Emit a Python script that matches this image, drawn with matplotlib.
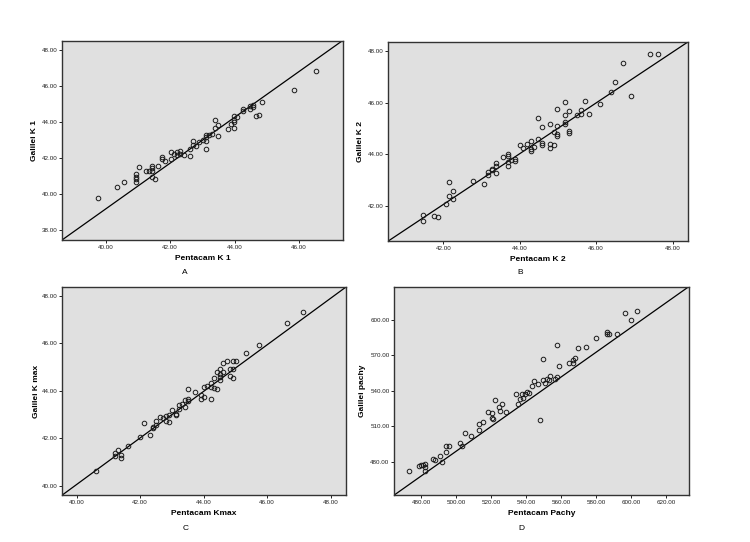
import matplotlib
matplotlib.use("Agg")
import matplotlib.pyplot as plt
from matplotlib.ticker import FormatStrFormatter

plt.rcParams['font.family'] = ['Liberation Sans', 'DejaVu Sans']

# panel A: K 1
a_pent = [39.77, 40.35, 40.56, 40.94, 40.94, 40.94, 40.94, 41.04, 41.24, 41.34, 41.44, 41.44, 41.44, 41.44,
          41.53, 41.63, 41.74, 41.74, 41.83, 42.03, 42.03, 42.12, 42.22, 42.22, 42.32, 42.32, 42.42, 42.62,
          42.62, 42.71, 42.71, 42.80, 42.91, 43.01, 43.11, 43.11, 43.11, 43.11, 43.20, 43.30, 43.39, 43.39,
          43.50, 43.50, 43.79, 43.89, 43.98, 43.98, 43.98, 43.98, 44.09, 44.26, 44.26, 44.47, 44.47, 44.57,
          44.57, 44.66, 44.76, 44.86, 45.84, 46.52]
a_gal = [39.78, 40.42, 40.67, 41.14, 40.94, 40.83, 40.70, 41.52, 41.31, 41.31, 41.57, 41.46, 41.31, 40.94,
         40.85, 41.59, 42.09, 41.98, 41.85, 42.35, 41.98, 42.24, 42.35, 42.18, 42.42, 42.24, 42.20, 42.13,
         42.53, 42.96, 42.72, 42.65, 42.92, 43.02, 43.31, 43.18, 42.96, 42.52, 43.26, 43.35, 44.11, 43.68,
         43.83, 43.24, 43.64, 43.92, 44.35, 44.13, 44.03, 43.68, 44.31, 44.72, 44.63, 44.89, 44.74, 44.96,
         44.83, 44.33, 44.37, 45.13, 45.79, 46.83]

# panel B: K 2
b_pent = [41.46, 41.46, 41.76, 41.87, 42.07, 42.16, 42.16, 42.26, 42.26, 42.77, 43.07, 43.17, 43.17, 43.27,
          43.27, 43.38, 43.38, 43.38, 43.57, 43.68, 43.68, 43.68, 43.68, 43.78, 43.88, 43.88, 44.00, 44.08,
          44.18, 44.29, 44.29, 44.29, 44.38, 44.49, 44.49, 44.58, 44.58, 44.58, 44.79, 44.79, 44.79, 44.89,
          44.89, 44.98, 44.98, 44.98, 44.98, 45.19, 45.19, 45.19, 45.19, 45.30, 45.29, 45.29, 45.49, 45.60,
          45.61, 45.70, 45.81, 46.10, 46.40, 46.50, 46.70, 46.91, 47.41, 47.61]
b_gal = [41.64, 41.41, 41.61, 41.56, 42.08, 42.94, 42.39, 42.59, 42.27, 42.97, 42.86, 43.33, 43.20, 43.44,
         43.39, 43.65, 43.54, 43.27, 43.89, 44.01, 43.95, 43.70, 43.55, 43.79, 43.83, 43.74, 44.36, 44.23,
         44.39, 44.52, 44.20, 44.13, 44.27, 45.42, 44.59, 45.05, 44.45, 44.37, 45.19, 44.41, 44.26, 44.86,
         44.35, 45.77, 45.11, 44.78, 44.70, 46.01, 45.52, 45.24, 45.19, 45.69, 44.89, 44.83, 45.52, 45.57,
         45.72, 46.06, 45.55, 45.96, 46.43, 46.79, 47.54, 46.26, 47.90, 47.88]

# panel C: K max
c_pent = [40.61, 41.21, 41.21, 41.31, 41.40, 41.40, 41.61, 42.00, 42.11, 42.31, 42.41, 42.41, 42.51, 42.51,
          42.61, 42.71, 42.81, 42.81, 42.91, 42.91, 43.12, 43.12, 43.01, 43.21, 43.21, 43.32, 43.41, 43.41,
          43.52, 43.52, 43.52, 43.72, 43.92, 43.92, 44.02, 44.02, 44.11, 44.22, 44.22, 44.22, 44.31, 44.31,
          44.42, 44.42, 44.51, 44.51, 44.51, 44.51, 44.62, 44.62, 44.72, 44.82, 44.82, 44.92, 44.92, 44.92,
          45.02, 45.32, 45.73, 46.62, 47.14]
c_gal = [40.61, 41.39, 41.27, 41.52, 41.28, 41.16, 41.66, 42.07, 42.66, 42.13, 42.43, 42.48, 42.73, 42.57,
         42.89, 42.87, 42.95, 42.74, 43.00, 42.70, 43.03, 42.97, 43.21, 43.25, 43.42, 43.44, 43.33, 43.62,
         44.08, 43.66, 43.57, 43.94, 43.83, 43.67, 43.73, 44.15, 44.21, 44.35, 44.18, 43.67, 44.56, 44.13,
         44.80, 44.07, 44.91, 44.71, 44.60, 44.45, 44.81, 45.19, 45.25, 44.94, 44.62, 45.25, 44.94, 44.53,
         45.25, 45.60, 45.95, 46.85, 47.34]

# panel D: pachymetry
d_pent = [472.96, 478.9, 480.0, 481.0, 482.1, 482.1, 482.1, 486.9, 488.0, 491.0, 492.2, 494.3, 494.3, 496.2,
          502.3, 503.3, 505.3, 508.4, 513.4, 513.4, 515.5, 518.5, 520.4, 520.4, 521.4, 522.5, 524.5, 525.4,
          526.5, 528.5, 534.5, 535.7, 536.6, 537.8, 538.5, 539.7, 540.6, 541.8, 543.7, 544.8, 546.8, 547.9,
          549.8, 549.8, 550.9, 551.9, 553.0, 553.8, 556.8, 558.0, 558.0, 558.9, 564.8, 567.0, 567.0, 568.1,
          570.0, 574.2, 580.3, 586.2, 586.2, 587.4, 592.3, 596.5, 600.3, 603.4]
d_gal = [472.4, 476.6, 477.5, 477.7, 478.6, 476.0, 472.6, 482.3, 481.4, 485.3, 480.3, 493.3, 488.2, 493.3,
         496.1, 493.3, 504.3, 502.3, 512.4, 507.3, 514.1, 522.3, 521.4, 517.4, 516.3, 532.1, 526.2, 523.4,
         529.3, 522.3, 537.2, 529.0, 533.2, 537.2, 534.1, 537.5, 539.2, 538.1, 544.2, 548.2, 546.2, 515.2,
         567.0, 549.0, 547.0, 550.1, 549.0, 552.9, 549.9, 579.1, 552.1, 561.1, 563.4, 566.2, 563.4, 568.1,
         576.1, 577.2, 585.0, 589.9, 588.4, 588.4, 588.4, 605.9, 600.0, 607.9]

x_labels = ['Pentacam K 1', 'Pentacam K 2', 'Pentacam Kmax', 'Pentacam Pachy']
y_labels = ['Galilei K 1', 'Galilei K 2', 'Galilei K max', 'Galilei pachy']
letters = ['A', 'B', 'C', 'D']

x_limits = [(38.64, 47.36), (40.56, 48.41), (39.55, 48.48), (464.7, 633.2)]
y_limits = [(37.46, 48.53), (40.645, 48.36), (39.61, 48.38), (452.1, 628.3)]
x_ticks = [[40, 42, 44, 46], [42, 44, 46, 48], [40, 42, 44, 46, 48], [480, 500, 520, 540, 560, 580, 600, 620]]
y_ticks = [[38, 40, 42, 44, 46, 48], [42, 44, 46, 48], [40, 42, 44, 46, 48], [480, 510, 540, 570, 600]]

series = [(a_pent, a_gal), (b_pent, b_gal), (c_pent, c_gal), (d_pent, d_gal)]

W, H = 750, 542
# axes boxes in pixels: left, top, right, bottom
boxes = [(62, 40.5, 342.7, 240), (388.3, 41.7, 688.3, 241),
         (62.3, 287, 346, 495), (394.3, 286.5, 689, 495)]
ylab_x = [35, 360, 37, 363]
letter_pos = [(185, 272), (520, 273), (186, 528), (521, 528)]

fig = plt.figure(figsize=(7.5, 5.42), dpi=100)

for i in range(4):
    l, t, r, b = boxes[i]
    ax = fig.add_axes([l / W, 1 - b / H, (r - l) / W, (b - t) / H])
    ax.set_facecolor('#e0e0e0')
    x, y = series[i]
    ax.plot(x, y, 'o', ms=3.3, mfc='none', mec='#1a1a1a', mew=0.7, zorder=3)
    xl, yl = x_limits[i], y_limits[i]
    # reference line corner to corner
    ax.plot([xl[0], xl[1]], [yl[0], yl[1]], color='black', lw=0.9, zorder=2)
    ax.set_xlim(xl)
    ax.set_ylim(yl)
    ax.set_xticks(x_ticks[i])
    ax.set_yticks(y_ticks[i])
    ax.xaxis.set_major_formatter(FormatStrFormatter('%.2f'))
    ax.yaxis.set_major_formatter(FormatStrFormatter('%.2f'))
    ax.tick_params(labelsize=4.5, length=2.5, width=0.7, pad=1, colors='#222222')
    for s in ax.spines.values():
        s.set_linewidth(1.0)
        s.set_color('#333333')
    ax.set_xlabel(x_labels[i], fontsize=6, fontweight='bold', va='center')
    ax.xaxis.set_label_coords(0.5, -18.5 / (b - t))
    ax.set_ylabel(y_labels[i], fontsize=6, fontweight='bold', va='center')
    ax.yaxis.set_label_coords((ylab_x[i] - l) / (r - l), 0.5)
    fig.text(letter_pos[i][0] / W, 1 - letter_pos[i][1] / H, letters[i], fontsize=6, ha='center', va='center')

fig.savefig('out.png', dpi=100)
